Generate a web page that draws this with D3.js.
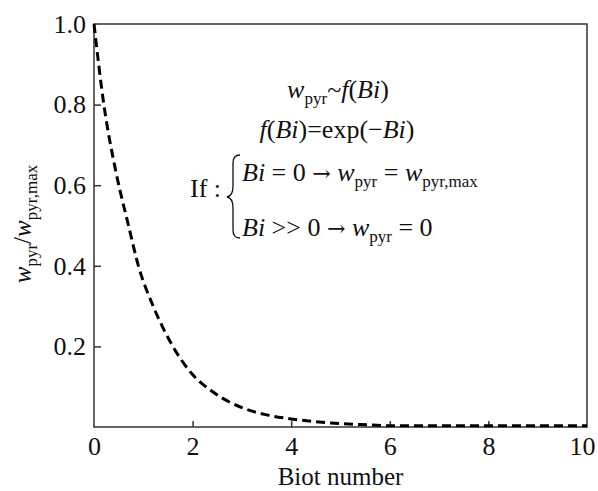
<!DOCTYPE html>
<html>
<head>
<meta charset="utf-8">
<script src="https://cdn.jsdelivr.net/npm/d3@7"></script>
<style>
  body { margin: 0; background: #fff; }
  svg text { font-family: "Liberation Serif", "Times New Roman", serif; fill: #111; }
  svg text .arrow { font-family: "DejaVu Serif", serif; }
  .axis path, .axis line { stroke: #333; stroke-width: 1.5; }
  .axis text { font-size: 26px; }
</style>
</head>
<body>
<svg id="chart" width="598" height="491"></svg>
<script>
// ── Data ──
const biot = [0, 0.2, 0.45, 0.7, 0.9, 1.2, 1.6, 2.0, 2.4, 3.0, 3.5, 4.0, 4.8, 5.6, 6, 7, 8, 9, 10];
const wRatio = [1.0, 0.8, 0.63, 0.5, 0.4, 0.3, 0.2, 0.13, 0.088, 0.048, 0.03, 0.02, 0.01, 0.005, 0.003, 0.003, 0.003, 0.003, 0.003];
const xTicks = [0, 2, 4, 6, 8, 10];
const yTicks = [0.2, 0.4, 0.6, 0.8, 1.0];

// ── Layout ──
const margin = { top: 24, right: 11, bottom: 64, left: 94 };
const width = 598, height = 491;

const svg = d3.select("#chart");

const x = d3.scaleLinear().domain([0, 10]).range([margin.left, width - margin.right]);
const y = d3.scaleLinear().domain([0, 1]).range([height - margin.bottom, margin.top]);

// ── Frame ──
svg.append("rect")
  .attr("x", x(0)).attr("y", y(1))
  .attr("width", x(10) - x(0)).attr("height", y(0) - y(1))
  .attr("fill", "none").attr("stroke", "#333").attr("stroke-width", 1.5);

// ── Axes (ticks point inward) ──
const xAxis = svg.append("g").attr("class", "axis")
  .attr("transform", `translate(0,${y(0)})`)
  .call(d3.axisBottom(x).tickValues(xTicks).tickFormat(d3.format("d"))
    .tickSizeInner(-6).tickSizeOuter(0).tickPadding(10));
xAxis.select(".domain").remove();
xAxis.selectAll(".tick line").filter(d => d === 0 || d === 10).remove();
// last label sits against the right edge
xAxis.selectAll(".tick text").filter(d => d === 10)
  .attr("text-anchor", "end").attr("x", 595 - x(10));

const yAxis = svg.append("g").attr("class", "axis")
  .attr("transform", `translate(${x(0)},0)`)
  .call(d3.axisLeft(y).tickValues(yTicks).tickFormat(d3.format(".1f"))
    .tickSizeInner(-7).tickSizeOuter(0).tickPadding(8));
yAxis.select(".domain").remove();
yAxis.selectAll(".tick line").filter(d => d === 1).remove();

// ── Curve ──
const line = d3.line()
  .x((d, i) => x(biot[i]))
  .y(d => y(d))
  .curve(d3.curveMonotoneX);

svg.append("path")
  .datum(wRatio)
  .attr("d", line)
  .attr("fill", "none")
  .attr("stroke", "#000")
  .attr("stroke-width", 3)
  .attr("stroke-dasharray", "9,5");

// ── Axis titles ──
svg.append("text")
  .attr("x", (x(0) + x(10)) / 2).attr("y", 485)
  .attr("text-anchor", "middle").attr("font-size", 25)
  .text("Biot number");

const yt = svg.append("text")
  .attr("transform", `translate(31,224) rotate(-90)`)
  .attr("text-anchor", "middle").attr("font-size", 25);
yt.append("tspan").attr("font-style", "italic").text("w");
yt.append("tspan").attr("font-size", 17).attr("dy", 6).text("pyr");
yt.append("tspan").attr("dy", -6).text("/");
yt.append("tspan").attr("font-style", "italic").text("w");
yt.append("tspan").attr("font-size", 17).attr("dy", 6).text("pyr,max");

// ── Annotation ──
const fs = 26, sub = 17, sd = 6;

const l1 = svg.append("text").attr("x", 338).attr("y", 98)
  .attr("text-anchor", "middle").attr("font-size", fs);
l1.append("tspan").attr("font-style", "italic").text("w");
l1.append("tspan").attr("font-size", sub).attr("dy", sd).text("pyr");
l1.append("tspan").attr("dy", -sd).text("~");
l1.append("tspan").attr("font-style", "italic").text("f");
l1.append("tspan").text("(");
l1.append("tspan").attr("font-style", "italic").text("Bi");
l1.append("tspan").text(")");

const l2 = svg.append("text").attr("x", 337).attr("y", 138)
  .attr("text-anchor", "middle").attr("font-size", fs);
l2.append("tspan").attr("font-style", "italic").text("f");
l2.append("tspan").text("(");
l2.append("tspan").attr("font-style", "italic").text("Bi");
l2.append("tspan").text(")=exp(\u2212");
l2.append("tspan").attr("font-style", "italic").text("Bi");
l2.append("tspan").text(")");

svg.append("text").attr("x", 190).attr("y", 197).attr("font-size", fs).text("If :");

// brace
svg.append("path")
  .attr("d", "M240,155 Q233,155 233,163 L233,186 Q233,196 227,197 Q233,198 233,208 L233,230 Q233,238 240,238")
  .attr("fill", "none").attr("stroke", "#111").attr("stroke-width", 1.3);

const l3 = svg.append("text").attr("x", 242).attr("y", 181).attr("font-size", fs);
l3.append("tspan").attr("font-style", "italic").text("Bi");
l3.append("tspan").text(" = 0 ");
l3.append("tspan").attr("class", "arrow").attr("font-size", 22).text("\u2192");
l3.append("tspan").text(" ");
l3.append("tspan").attr("font-style", "italic").text("w");
l3.append("tspan").attr("font-size", sub).attr("dy", sd).text("pyr");
l3.append("tspan").attr("dy", -sd).text(" = ");
l3.append("tspan").attr("font-style", "italic").text("w");
l3.append("tspan").attr("font-size", sub).attr("dy", sd).text("pyr,max");

const l4 = svg.append("text").attr("x", 242).attr("y", 236).attr("font-size", fs);
l4.append("tspan").attr("font-style", "italic").text("Bi");
l4.append("tspan").text(" >> 0 ");
l4.append("tspan").attr("class", "arrow").attr("font-size", 22).text("\u2192");
l4.append("tspan").text(" ");
l4.append("tspan").attr("font-style", "italic").text("w");
l4.append("tspan").attr("font-size", sub).attr("dy", sd).text("pyr");
l4.append("tspan").attr("dy", -sd).text(" = 0");
</script>
</body>
</html>
